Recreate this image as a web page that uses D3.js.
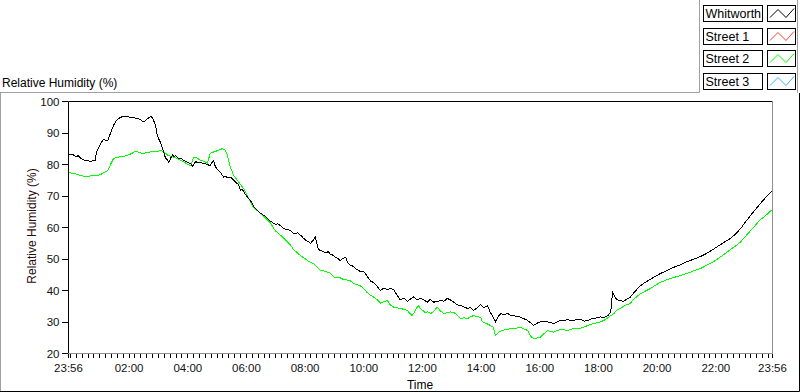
<!DOCTYPE html>
<html><head><meta charset="utf-8">
<script src="https://cdn.jsdelivr.net/npm/d3@7"></script>
<style>body{margin:0;background:#fff}svg{display:block;font-family:"Liberation Sans",Arial,sans-serif}</style>
</head><body><svg id="c" width="800" height="392"></svg>
<script>
// ---- data (minutes after 23:56 start, relative humidity %) ----
const whitworthTime = [0,8,16,20,25,30,35,45,50,55,57,61,65,68,72,76,80,86,92,97,102,110,119,127,135,143,149,153,158,162,166,170,174,178,182,185,188,194,198,202,205,209,213,216,219,224,229,234,239,245,250,254,260,265,270,276,280,285,290,293,297,300,303,307,311,317,321,326,331,335,338,343,348,352,355,358,362,366,372,377,382,388,393,398,403,408,413,418,423,428,434,439,444,449,454,459,464,469,475,480,485,490,495,500,505,508,511,518,526,531,536,541,546,551,556,561,567,571,577,582,587,592,597,602,607,612,618,623,628,633,638,645,652,658,665,672,679,686,693,699,706,713,720,727,734,740,747,754,761,768,775,781,788,795,802,809,816,822,828,836,843,850,857,863,869,873,878,884,891,898,904,910,918,925,932,939,945,951,958,965,972,980,986,992,999,1006,1014,1021,1027,1033,1040,1047,1055,1062,1068,1074,1081,1088,1096,1103,1109,1113,1116,1119,1123,1129,1135,1142,1149,1156,1164,1170,1176,1183,1190,1200,1211,1222,1232,1242,1252,1262,1273,1283,1293,1303,1313,1323,1333,1344,1354,1365,1375,1385,1395,1405,1415,1426,1436,1440];
const whitworthRH = [83,83.2,82.5,82.8,82,81.5,81.3,81,81.2,81.3,84,85,86.5,87.2,88,87.6,87.5,90,92.4,93.8,94.6,95.2,95.2,95,94.8,94.6,94,93.5,94,94.6,95,95.2,94,92.4,89,88,87,84.4,82.2,81.5,80.6,82,83,82.4,82.8,82,82,81.5,81,80.6,80.3,79.4,81,80.5,80.6,80.3,80.3,79.9,79.7,80.5,81.2,79.5,78.7,78,77.5,76,76.2,75.8,76,75.5,75,74.2,73.7,71.7,72.2,71.5,70.5,69.6,68.6,67.2,66,65.2,64.5,64,63.5,62.8,62,61.5,61,61.2,60.5,59.8,59.5,59.3,59,58.2,58,58.3,57.5,56.7,56,55.6,55,55.8,57,55,53,52.6,52,52.3,51.5,51.2,50.5,50.2,49.5,50.2,50.5,48.8,48,47.7,47,46.5,46,46.2,45.5,44.2,43,42.6,42,41,40,40.8,40.2,40.6,40.3,38.5,37,37.6,36.5,37.2,38,37,37.5,37,36.3,37.2,36.3,36.5,36.8,36.6,37.5,37,36.3,35.5,35.2,34.8,34.3,34.6,33.7,34.5,35.5,34.5,35.2,33,31.5,30,31.5,32.7,32.3,32.7,32.2,32,31.8,31.5,31,30.5,29.8,28.9,29.6,30,30.3,30,29.8,29.5,30,30.5,30.4,30.8,30.5,30.5,30.9,30.8,30.3,30.5,30.9,31.1,31.3,31.6,31.5,32,33.1,39.5,38.5,37.5,37,36.8,36.6,37.2,37.9,39.2,40.6,41.5,42.2,42.9,43.5,44.5,45.4,46.2,47,47.6,48.2,49,49.6,50.2,50.8,51.6,52.5,53.5,54.5,55.6,56.5,58,59.7,61.8,63.8,65.7,67.6,69.5,71.1,71.8];

const street2Time = [0,7,14,20,25,32,39,47,55,60,65,70,74,80,86,92,99,106,114,121,129,137,141,145,149,153,160,168,175,182,188,194,199,203,208,213,221,229,234,239,244,250,253,256,260,264,270,277,284,287,290,294,297,301,305,310,315,318,321,325,328,331,335,338,343,348,353,358,363,368,373,378,385,393,398,403,408,413,418,423,428,434,439,444,449,454,459,464,469,475,480,485,490,495,500,505,510,515,520,526,531,536,541,546,551,556,561,567,572,577,582,587,592,597,602,607,612,618,623,628,633,638,652,658,665,672,679,686,693,698,703,709,715,722,729,735,741,748,754,761,768,775,781,788,795,802,809,816,822,828,836,843,847,855,862,869,873,878,886,894,902,910,918,925,932,939,945,951,958,965,972,980,986,992,999,1006,1014,1021,1027,1033,1040,1047,1055,1062,1068,1074,1081,1088,1096,1103,1109,1115,1123,1129,1135,1142,1149,1156,1170,1180,1190,1200,1211,1222,1232,1242,1252,1262,1273,1283,1293,1303,1313,1323,1333,1344,1354,1365,1375,1385,1395,1405,1415,1426,1436,1440];
const street2RH = [77.6,77.2,77,76.8,76.5,76.3,76.2,76.4,76.5,76.6,76.8,77.2,77.5,78,80,81.9,82.2,82.5,82.6,82.9,83.5,84.2,84,83.8,83.6,83.5,83.8,84,84.1,84.2,84.4,84.2,83.5,82.9,82.7,82.5,82,81.3,81,80.5,80,79.7,81,82.3,82.2,82,81.3,81,80.5,82,83.5,83.8,84,84.2,84.4,84.8,85,84.8,84.5,83,81,79.2,77.6,76.5,75.5,74.5,73.4,72.4,71,69.5,68,66.5,65.5,64.5,63.8,63,62.3,61.5,60.2,59,58.3,57.5,56.8,56,55.3,54.5,53.3,52.5,51.8,51,50.5,50,49.4,49,48.6,48,47.2,46.5,46.3,46,45.7,45.5,44.6,44,44.2,44,43.6,43.5,43.2,43,42.4,42,41.8,41.5,40.8,40,39.2,38.5,38,37.5,36.8,36,36.8,35.5,34.7,34.5,34.3,34,33.7,32.8,32,33.5,35.2,34,33.1,33.2,32.7,33.5,34.7,33.5,32.7,33,33.2,33.1,32.2,31.1,31.3,31.1,31.6,32,31.7,31.5,30,29.5,29,28.3,25.7,26.5,27.3,27.6,27.8,27.9,28.1,28.3,27.8,27.3,25.5,24.8,24.9,25.2,26.2,27.3,27,26.8,27.2,27.6,27.5,27.3,27.6,27.9,28,28,28.4,28.9,29.2,29.5,29.8,30,30.6,31.3,32,32.6,34,34.3,35,35.5,35.9,37.2,39,39.8,40.6,41.6,42.6,43.3,43.8,44.3,44.8,45.3,45.9,46.5,47,47.8,48.6,49.5,50.6,51.8,53,54.2,55.5,57.2,59,60.7,62.5,63.8,65.2,65.7];

const legendNames = ["Whitworth","Street 1","Street 2","Street 3"];
const legendColors = ["#000000","#ff3c3c","#00ff00","#33b5ff"];
const yTicks = [20,30,40,50,60,70,80,90,100];

// ---- layout ----
const svg = d3.select("#c");
const L = 68, R = 772, T = 101, B = 353;
const start = new Date(2013,0,1,23,56);
const end = new Date(2013,0,2,23,56);
const x = d3.scaleTime().domain([start,end]).range([L+0.5,R+0.5]);
const y = d3.scaleLinear().domain([20,100]).range([B+0.5,T+0.5]);
const toDate = m => new Date(+start + m*60000);

// outer frame
svg.append("rect").attr("x",0).attr("y",0).attr("width",800).attr("height",392).attr("fill","#fff");
svg.append("path").attr("d","M0,92.5H699.5V0").attr("fill","none").attr("stroke","#a0a0a0");
svg.append("path").attr("d","M0.5,92V392").attr("stroke","#a0a0a0");
svg.append("path").attr("d","M0,391.5H799.5V93").attr("fill","none").attr("stroke","#000");
svg.append("path").attr("d","M797.5,0V93").attr("stroke","#a0a0a0");

svg.append("text").attr("x",2).attr("y",87).attr("font-size",12).attr("fill","#000").text("Relative Humidity (%)");

// plot frame
svg.append("path").attr("d",`M${L+0.5},${B}V${T+0.5}H${R}`).attr("fill","none").attr("stroke","#000");
svg.append("path").attr("d",`M${R+0.5},${T}V${B+0.5}H${L}`).attr("fill","none").attr("stroke","#909090");

// y axis
const yAx = svg.append("g");
yTicks.forEach(v=>{
  const yy = Math.round(y(v)-0.5)+0.5;
  yAx.append("line").attr("x1",62).attr("x2",L).attr("y1",yy).attr("y2",yy).attr("stroke","#000");
  yAx.append("text").attr("x",59.5).attr("y",y(v)+4).attr("text-anchor","end").attr("font-size",11.5).attr("fill","#111").text(v);
});
svg.append("text").attr("transform",`translate(35.5,226) rotate(-90)`).attr("text-anchor","middle").attr("font-size",12).attr("fill","#2a0a0a").text("Relative Humidity (%)");

// x axis
const minor = d3.timeMinute.every(12).range(start, end).concat([start,end]);
svg.append("g").selectAll("line").data(minor).join("line")
  .attr("x1",d=>Math.round(x(d)-0.5)+0.5).attr("x2",d=>Math.round(x(d)-0.5)+0.5)
  .attr("y1",B+1).attr("y2",B+5).attr("stroke","#000");
const twoHourly = d3.timeHour.every(2).range(start, end).filter(d => (d - start) > 60*60000);
const major = [start].concat(twoHourly).concat([end]);
const fmt = d3.timeFormat("%H:%M");
svg.append("g").selectAll("text").data(major).join("text")
  .attr("x",d=>x(d)).attr("y",372).attr("text-anchor","middle").attr("font-size",11.5).attr("fill","#111").text(fmt);
svg.append("text").attr("x",(L+R)/2).attr("y",389).attr("text-anchor","middle").attr("font-size",12).attr("fill","#000").text("Time");

// data lines
svg.append("clipPath").attr("id","clp").append("rect").attr("x",L+1).attr("y",T+1).attr("width",R-L-1).attr("height",B-T-1);
const line = d3.line().x(d=>x(toDate(d[0]))).y(d=>y(d[1]));
const g = svg.append("g").attr("clip-path","url(#clp)");
g.append("path").datum(street2Time.map((t,i)=>[t,street2RH[i]])).attr("d",line)
  .attr("fill","none").attr("stroke",legendColors[2]).attr("stroke-width",1).attr("shape-rendering","crispEdges");
g.append("path").datum(whitworthTime.map((t,i)=>[t,whitworthRH[i]])).attr("d",line)
  .attr("fill","none").attr("stroke",legendColors[0]).attr("stroke-width",1).attr("shape-rendering","crispEdges");

// legend
const lg = svg.append("g");
legendNames.forEach((n,i)=>{
  const ty = 5 + i*22.7;
  const yy = Math.round(ty)+0.5;
  lg.append("rect").attr("x",703.5).attr("y",yy).attr("width",59).attr("height",16).attr("fill","#fff").attr("stroke","#000");
  lg.append("text").attr("x",705.5).attr("y",yy+12.5).attr("font-size",12.5).attr("fill","#000").text(n);
  lg.append("rect").attr("x",767.5).attr("y",yy).attr("width",28).attr("height",16).attr("fill","#fff").attr("stroke","#000");
  lg.append("path").attr("d",`M770,${yy+12}L778,${yy+4}L786,${yy+12}L794,${yy+3}`)
    .attr("fill","none").attr("stroke",legendColors[i]).attr("stroke-width",1);
});
</script></body></html>
